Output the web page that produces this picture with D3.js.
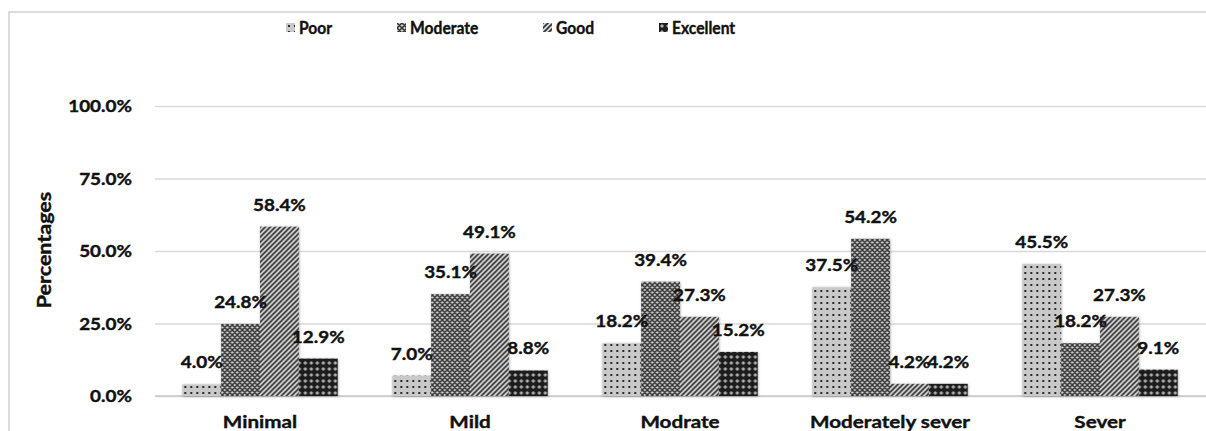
<!DOCTYPE html>
<html>
<head>
<meta charset="utf-8">
<script src="https://cdn.jsdelivr.net/npm/d3@7.9.0/dist/d3.min.js"></script>
<style>
  html, body { margin: 0; padding: 0; background: #fff; }
  svg { display: block; }
  text { font-family: Lato, "Open Sans", sans-serif; font-weight: 700; fill: #111; stroke: #111; stroke-width: 0.4px; }
</style>
</head>
<body>
<svg id="chart" width="1206" height="431"></svg>
<script>
// chart data
const categories = ['Minimal', 'Mild', 'Modrate', 'Moderately sever', 'Sever'];
const seriesNames = ['Poor', 'Moderate', 'Good', 'Excellent'];
const poor      = [4.0, 7.0, 18.2, 37.5, 45.5];
const moderate  = [24.8, 35.1, 39.4, 54.2, 18.2];
const good      = [58.4, 49.1, 27.3, 4.2, 27.3];
const excellent = [12.9, 8.8, 15.2, 4.2, 9.1];
const yTicks = [0, 25, 50, 75, 100];

const seriesValues = [poor, moderate, good, excellent];

const svg = d3.select('#chart');
const sx = 1.08; // horizontal stretch of the number text

// outer frame
svg.append('path')
  .attr('d', 'M9,431 V12 H1206')
  .attr('fill', 'none')
  .attr('stroke', '#dcdcdc')
  .attr('stroke-width', 2);

// patterns
const defs = svg.append('defs');

let p = defs.append('pattern').attr('id', 'pat0').attr('patternUnits', 'userSpaceOnUse')
  .attr('width', 6).attr('height', 6);
p.append('rect').attr('width', 6).attr('height', 6).attr('fill', '#c9c9c9');
p.append('rect').attr('x', 2).attr('y', 2).attr('width', 2).attr('height', 2).attr('fill', '#2a2a2a');

p = defs.append('pattern').attr('id', 'pat1').attr('patternUnits', 'userSpaceOnUse')
  .attr('width', 5).attr('height', 5);
p.append('rect').attr('width', 5).attr('height', 5).attr('fill', '#d0d0d0');
p.append('path').attr('d', 'M-1,6 L6,-1 M-1,1 L1,-1 M4,6 L6,4 M-1,-1 L6,6 M-1,4 L1,6 M4,-1 L6,1')
  .attr('stroke', '#333').attr('stroke-width', 1.5);

p = defs.append('pattern').attr('id', 'pat2').attr('patternUnits', 'userSpaceOnUse')
  .attr('width', 5).attr('height', 5);
p.append('rect').attr('width', 5).attr('height', 5).attr('fill', '#d6d6d6');
p.append('path').attr('d', 'M-1,6 L6,-1 M-1,1 L1,-1 M4,6 L6,4')
  .attr('stroke', '#333').attr('stroke-width', 1.6);

p = defs.append('pattern').attr('id', 'pat3').attr('patternUnits', 'userSpaceOnUse')
  .attr('width', 6).attr('height', 6);
p.append('rect').attr('width', 6).attr('height', 6).attr('fill', '#1e1e1e');
p.append('path').attr('d', 'M3,1 L5,3 L3,5 L1,3 Z').attr('fill', '#b0b0b0');

const shadow = defs.append('filter').attr('id', 'shadow')
  .attr('x', '-20%').attr('y', '-20%').attr('width', '140%').attr('height', '140%');
shadow.append('feDropShadow').attr('dx', 0.5).attr('dy', 0.5)
  .attr('stdDeviation', 1.2).attr('flood-color', '#000').attr('flood-opacity', 0.35);

// scales
const x = d3.scaleBand().domain(categories).range([155, 1205]).paddingInner(0.26).paddingOuter(0.13);
const xs = d3.scaleBand().domain(seriesNames).range([0, x.bandwidth()]);
const y = d3.scaleLinear().domain([0, 100]).range([396, 106]);

// gridlines + y axis
const yAxis = svg.append('g')
  .attr('transform', 'translate(155,0)')
  .call(d3.axisLeft(y).tickValues(yTicks).tickSize(-1051).tickPadding(23)
    .tickFormat(d => d3.format('.1f')(d) + '%'));
yAxis.select('.domain').remove();
yAxis.selectAll('.tick line').attr('stroke', '#d9d9d9').attr('stroke-width', 1.5);
yAxis.selectAll('.tick text').attr('font-size', 17.5).attr('fill', '#111')
  .attr('transform', function () {
    const tx = +d3.select(this).attr('x');
    return `translate(${tx * (1 - sx)},0) scale(${sx},1)`;
  });

// baseline
svg.append('line').attr('x1', 155).attr('x2', 1206).attr('y1', y(0)).attr('y2', y(0))
  .attr('stroke', '#c8c8c8').attr('stroke-width', 1.5);

// bars
const groups = svg.append('g').selectAll('g').data(categories).join('g')
  .attr('transform', d => `translate(${x(d)},0)`);

seriesNames.forEach((s, si) => {
  groups.append('rect')
    .attr('x', xs(s))
    .attr('width', xs.bandwidth())
    .attr('y', (d, i) => y(seriesValues[si][i]))
    .attr('height', (d, i) => y(0) - y(seriesValues[si][i]))
    .attr('fill', `url(#pat${si})`)
    .attr('filter', 'url(#shadow)');
});

// data labels
seriesNames.forEach((s, si) => {
  groups.append('text')
    .attr('text-anchor', 'middle')
    .attr('font-size', 17.5)
    .attr('transform', (d, i) =>
      `translate(${xs(s) + xs.bandwidth() / 2},${y(seriesValues[si][i]) - 16}) scale(${sx},1)`)
    .text((d, i) => d3.format('.1f')(seriesValues[si][i]) + '%');
});

// x labels
svg.append('g').selectAll('text').data(categories).join('text')
  .attr('text-anchor', 'middle')
  .attr('font-size', 17.5)
  .attr('transform', d => `translate(${x(d) + x.bandwidth() / 2},428) scale(1.18,1)`)
  .text(d => d);

// y title
svg.append('text')
  .attr('text-anchor', 'middle')
  .attr('font-size', 18.5)
  .attr('transform', 'translate(51,250) rotate(-90) scale(1.16,1)')
  .text('Percentages');

// legend
const legendX = [286, 397, 543, 659];
const legend = svg.append('g').selectAll('g').data(seriesNames).join('g')
  .attr('transform', (d, i) => `translate(${legendX[i]},23)`);
legend.append('rect').attr('width', 9).attr('height', 9)
  .attr('fill', (d, i) => `url(#pat${i})`);
legend.append('text')
  .attr('font-size', 17)
  .attr('transform', 'translate(13,10.5) scale(0.92,1)')
  .text(d => d);
</script>
</body>
</html>
